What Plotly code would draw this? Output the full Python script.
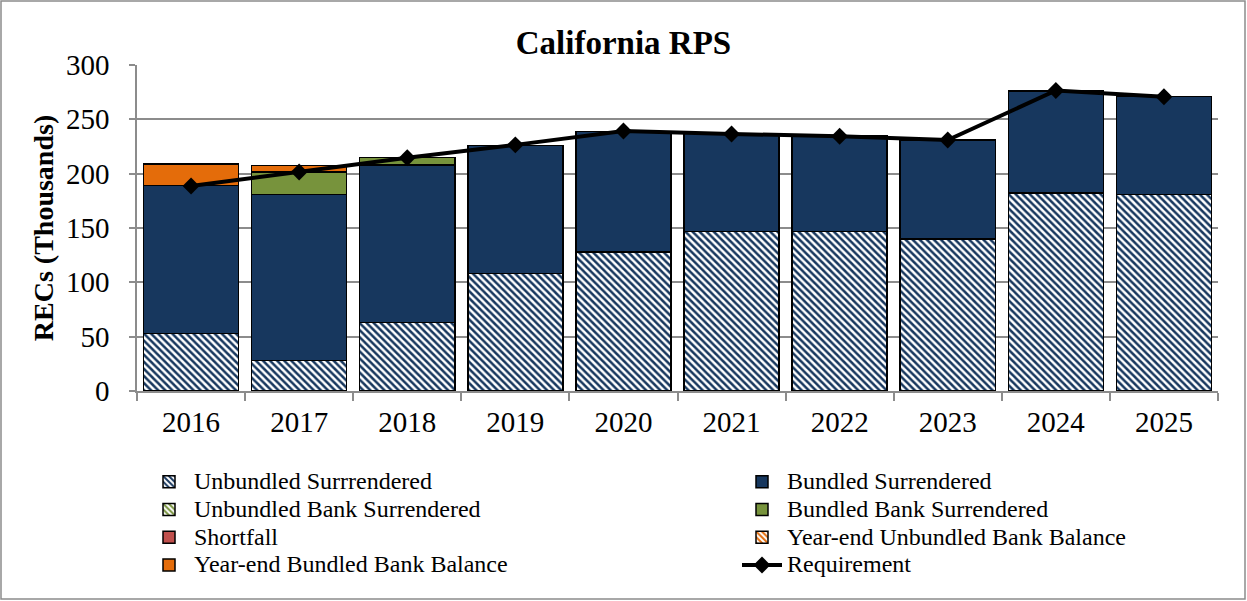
import plotly.graph_objects as go

years = ["2016", "2017", "2018", "2019", "2020", "2021", "2022", "2023", "2024", "2025"]
unbundled_surrendered = [53, 28, 63, 108, 128, 147, 147, 140, 182, 181]
bundled_surrendered = [136, 153, 145, 118, 111, 90, 88, 91, 94, 90]
unbundled_bank_surrendered = [0, 0, 0, 0, 0, 0, 0, 0, 0, 0]
bundled_bank_surrendered = [0, 20.5, 6.7, 0, 0, 0, 0, 0, 0, 0]
shortfall = [0, 0, 0, 0, 0, 0, 0, 0, 0, 0]
yearend_unbundled_bank = [0, 0, 0, 0, 0, 0, 0, 0, 0, 0]
yearend_bundled_bank = [20, 6, 0, 0, 0, 0, 0, 0, 0, 0]
requirement = [188.6, 201.5, 214.7, 226.5, 239.3, 236.5, 234.5, 231, 276.5, 270.8]

FONT = "Liberation Serif"
NAVY = "#17375e"
OUT = dict(color="black", width=1.5)

def lg(text):
    return '<span style="font-size:24px">' + text + '</span>'

fig = go.Figure()

def bar(name, vals, color, legend, pattern=False):
    marker = dict(color=color, line=OUT)
    if pattern:
        marker["pattern"] = dict(shape="\\", fgcolor=color, bgcolor="white",
                                 size=5, solidity=0.5, fillmode="replace")
    fig.add_trace(go.Bar(name=lg(name), x=years, y=vals, marker=marker, legend=legend))

bar("Unbundled Surrrendered", unbundled_surrendered, NAVY, "legend", pattern=True)
bar("Bundled Surrendered", bundled_surrendered, NAVY, "legend2")
bar("Unbundled Bank Surrendered", unbundled_bank_surrendered, "#77933c", "legend", pattern=True)
bar("Bundled Bank Surrendered", bundled_bank_surrendered, "#77933c", "legend2")
bar("Shortfall", shortfall, "#c0504d", "legend")
bar("Year-end Unbundled Bank Balance", yearend_unbundled_bank, "#e46c0a", "legend2", pattern=True)
bar("Year-end Bundled Bank Balance", yearend_bundled_bank, "#e46c0a", "legend")

fig.add_trace(go.Scatter(name=lg("Requirement"), x=years, y=requirement, mode="lines+markers",
                         line=dict(color="black", width=4),
                         marker=dict(symbol="diamond", size=13, color="black"),
                         legend="legend2"))

L, R, T, B = 137, 29, 65, 210
W, H = 1247, 601
pw, ph = W - L - R, H - T - B

fig.add_shape(type="rect", xref="paper", yref="paper",
              x0=(1 - L) / pw, x1=(W - 2 - L) / pw,
              y0=-(H - 2 - (H - B)) / ph, y1=(H - B - 1) / ph,
              line=dict(color="#8c8c8c", width=1.5), fillcolor="rgba(0,0,0,0)", layer="below")

leg_common = dict(orientation="v", yanchor="top", y=(391 - 463) / ph, xanchor="left",
                  itemwidth=40, font=dict(size=19, family=FONT), traceorder="normal",
                  bgcolor="rgba(0,0,0,0)", tracegroupgap=0)

fig.update_layout(
    width=W, height=H,
    margin=dict(l=L, r=R, t=T, b=B, autoexpand=False),
    barmode="stack", bargap=0.12,
    plot_bgcolor="white", paper_bgcolor="white",
    font=dict(family=FONT, color="black", size=20),
    title=dict(text="<b>California RPS</b>", x=0.5, xref="container", xanchor="center",
               y=1 - 42 / H, yanchor="middle", font=dict(size=33, family=FONT)),
    xaxis=dict(range=[-0.5, len(years) - 0.5], showline=True, linecolor="#8c8c8c",
               linewidth=1.5, ticks="outside",
               tickson="boundaries", ticklen=8, tickcolor="#8c8c8c", tickwidth=1.5,
               tickfont=dict(size=29), showgrid=False, ticklabelstandoff=4),
    yaxis=dict(range=[0, 300], dtick=50, showline=True, linecolor="#8c8c8c", linewidth=1.5,
               ticks="outside", ticklen=6, tickcolor="#8c8c8c", tickwidth=1.5,
               gridcolor="#8c8c8c", gridwidth=1.5, tickfont=dict(size=29),
               ticklabelstandoff=14,
               title=dict(text="<b>RECs (Thousands)</b>", font=dict(size=28), standoff=4),
               zeroline=False),
    legend=dict(x=(144 - L) / pw, **leg_common),
    legend2=dict(x=(737 - L) / pw, **leg_common),
    showlegend=True,
)

fig.write_html("out.html", config={"displayModeBar": False},
               post_script="document.body.style.margin='0';document.body.style.overflow='hidden';")
